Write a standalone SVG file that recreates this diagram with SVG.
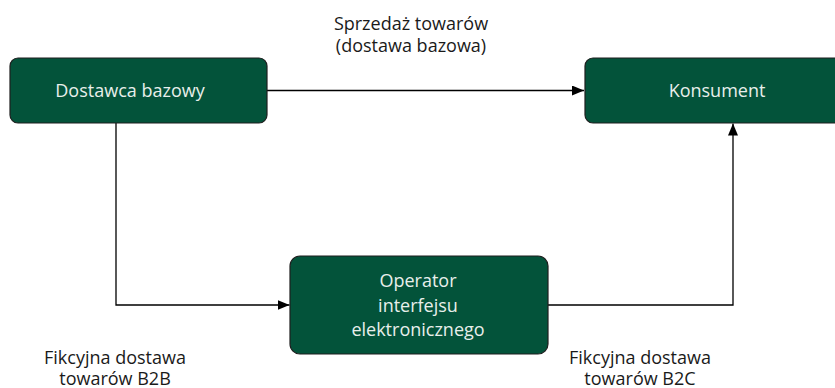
<svg xmlns="http://www.w3.org/2000/svg" width="835" height="388" viewBox="0 0 835 388">
  <style>
    .box { fill: #03533a; stroke: #1f1f1f; stroke-width: 1.2; }
    .lbl { font-family: "Open Sans", "Noto Sans", sans-serif; font-size: 18px; fill: #e8efeb; text-anchor: middle; dominant-baseline: central; }
    .cap { font-family: "Open Sans", "Noto Sans", sans-serif; font-size: 18px; fill: #1a1a1a; text-anchor: middle; dominant-baseline: central; }
    .link { fill: none; stroke: #000; stroke-width: 1.3; }
  </style>
  <defs>
    <marker id="arrow" viewBox="0 0 12 10" refX="12" refY="5" markerWidth="12" markerHeight="10" markerUnits="userSpaceOnUse" orient="auto">
      <path d="M0,0 L12,5 L0,10 Z" fill="#000"/>
    </marker>
  </defs>
  <rect width="835" height="388" fill="#fff"/>

  <g id="connectors">
    <path class="link" d="M267,90.5 H584" marker-end="url(#arrow)"/>
    <path class="link" d="M116,123 V305 H289.5" marker-end="url(#arrow)"/>
    <path class="link" d="M548,305 H733 V123.5" marker-end="url(#arrow)"/>
  </g>

  <g id="dostawca">
    <rect class="box" x="10" y="58" width="257" height="65" rx="8"/>
    <text class="lbl" x="130" y="90">Dostawca bazowy</text>
  </g>

  <g id="konsument">
    <rect class="box" x="585" y="58" width="264" height="65" rx="8"/>
    <text class="lbl" x="717" y="90">Konsument</text>
  </g>

  <g id="operator">
    <rect class="box" x="290" y="256" width="258" height="98" rx="10"/>
    <text class="lbl" x="418" y="280">Operator</text>
    <text class="lbl" x="418" y="305">interfejsu</text>
    <text class="lbl" x="418" y="329">elektronicznego</text>
  </g>

  <g id="labels">
    <text class="cap" x="411" y="23">Sprzedaż towarów</text>
    <text class="cap" x="411" y="45">(dostawa bazowa)</text>
    <text class="cap" x="115" y="357">Fikcyjna dostawa</text>
    <text class="cap" x="115" y="378">towarów B2B</text>
    <text class="cap" x="640" y="357">Fikcyjna dostawa</text>
    <text class="cap" x="640" y="378">towarów B2C</text>
  </g>
</svg>
